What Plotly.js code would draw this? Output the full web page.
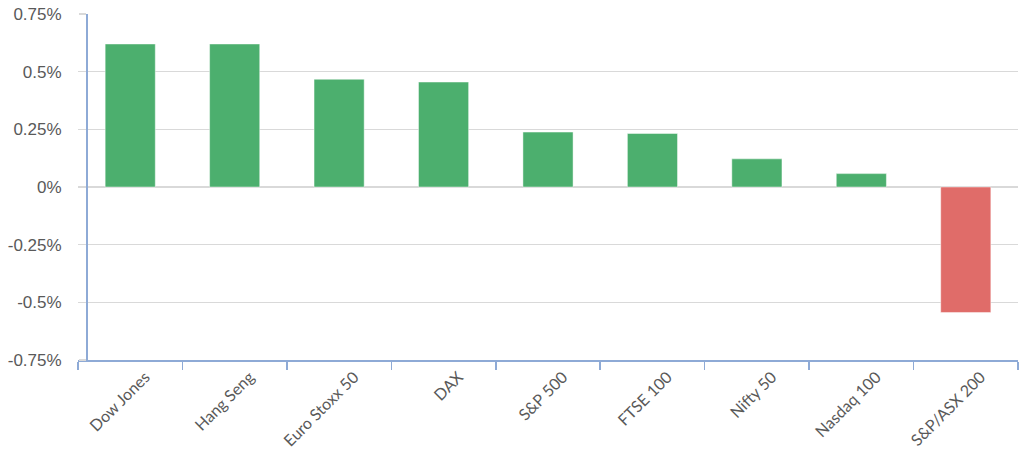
<!DOCTYPE html>
<html>
<head>
<meta charset="utf-8">
<script src="https://cdn.plot.ly/plotly-3.0.1.min.js"></script>
<style>html,body{margin:0;padding:0;background:#fff;}#chart{width:1024px;height:462px;}</style>
</head>
<body>
<div id="chart"></div>
<script>
const indices = ["Dow Jones", "Hang Seng", "Euro Stoxx 50", "DAX", "S&P 500", "FTSE 100", "Nifty 50", "Nasdaq 100", "S&P/ASX 200"];
const changePct = [0.62, 0.62, 0.467, 0.455, 0.238, 0.232, 0.122, 0.058, -0.544];
const yTickVals = [0.75, 0.5, 0.25, 0, -0.25, -0.5, -0.75];
const yTickText = ["0.75%", "0.5%", "0.25%", "0%", "-0.25%", "-0.5%", "-0.75%"];

const upColor = "#4caf6e";
const downColor = "#e06c69";

const trace = {
  type: "bar",
  x: indices,
  y: changePct,
  width: 0.48,
  marker: {
    color: changePct.map(v => v >= 0 ? upColor : downColor),
    line: {color: "rgba(255,255,255,0.45)", width: 1}
  },
  hoverinfo: "x+y"
};

const layout = {
  width: 1024, height: 462,
  margin: {l: 78, r: 6, t: 14, b: 102, pad: 0},
  paper_bgcolor: "#fff", plot_bgcolor: "#fff",
  showlegend: false,
  xaxis: {
    type: "category",
    range: [-0.5, 8.5],
    showline: true, linecolor: "#8eaad6", linewidth: 1.5,
    ticks: "outside", tickson: "boundaries", ticklen: 8, tickcolor: "#8eaad6", tickwidth: 1.5,
    showgrid: false,
    tickangle: -45,
    tickfont: {family: "Lato, 'Open Sans', sans-serif", size: 16, color: "#595959"},
    ticklabelshift: 15,
    ticklabelstandoff: 0
  },
  yaxis: {
    range: [-0.75, 0.75],
    anchor: "free", position: 8/940,
    showline: true, linecolor: "#8eaad6", linewidth: 1.5,
    ticks: "outside", ticklen: 7, tickcolor: "#d9d9d9", tickwidth: 1.5,
    tickvals: yTickVals, ticktext: yTickText,
    showgrid: true, gridcolor: "#d9d9d9", gridwidth: 1.5,
    zeroline: false,
    tickfont: {family: "'Liberation Sans', Arial, sans-serif", size: 17, color: "#595959"},
    ticklabelstandoff: 14
  }
};

Plotly.newPlot("chart", [trace], layout, {displayModeBar: false, staticPlot: true});
</script>
</body>
</html>
